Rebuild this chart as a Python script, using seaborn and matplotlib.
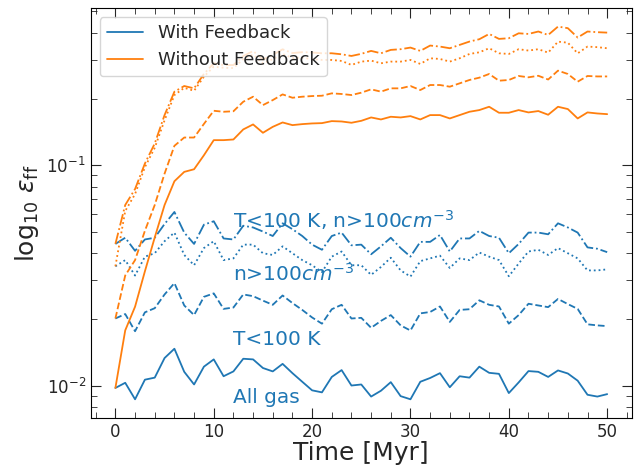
import numpy as np
import seaborn as sns
from matplotlib import pyplot as plt

sns.set_style("ticks", {"xtick.direction": "in", "ytick.direction": "in",
                        "axes.edgecolor": "black"})
plt.rcParams["font.family"] = ["DejaVu Sans"]

# Star formation efficiency per free-fall time, one value per Myr
time_myr = np.arange(0, 51)

# With feedback
fb_all_gas = [0.00975, 0.01029, 0.00866, 0.01063, 0.01086, 0.01333, 0.01469, 0.01154, 0.01011, 0.01218,
              0.01314, 0.01102, 0.01159, 0.01323, 0.01314, 0.01201, 0.01159, 0.01254, 0.01138, 0.01040,
              0.00951, 0.00931, 0.01094, 0.01175, 0.01000, 0.01011, 0.00891, 0.00947, 0.01036, 0.00895,
              0.00866, 0.01040, 0.01082, 0.01138, 0.00982, 0.01102, 0.01086, 0.01218, 0.01142, 0.01130,
              0.00924, 0.01033, 0.01163, 0.01154, 0.01094, 0.01171, 0.01134, 0.01052, 0.00908, 0.00891,
              0.00914]
fb_cold = [0.02015, 0.02111, 0.01764, 0.02149, 0.02244, 0.02591, 0.02917, 0.02309, 0.02088, 0.02527,
           0.02620, 0.02228, 0.02260, 0.02591, 0.02545, 0.02429, 0.02325, 0.02563, 0.02368, 0.02204,
           0.02037, 0.01909, 0.02220, 0.02325, 0.02015, 0.02029, 0.01828, 0.01965, 0.02088, 0.01875,
           0.01777, 0.02126, 0.02157, 0.02285, 0.01944, 0.02204, 0.02220, 0.02437, 0.02325, 0.02285,
           0.01909, 0.02088, 0.02351, 0.02309, 0.02269, 0.02472, 0.02343, 0.02228, 0.01896, 0.01875,
           0.01861]
fb_dense = [0.03478, 0.03710, 0.03157, 0.03846, 0.03986, 0.04521, 0.04946, 0.03915, 0.03516, 0.04207,
            0.04521, 0.03710, 0.03777, 0.04361, 0.04361, 0.03986, 0.03915, 0.04283, 0.03986, 0.03710,
            0.03516, 0.03272, 0.03846, 0.04059, 0.03516, 0.03516, 0.03180, 0.03453, 0.03804, 0.03331,
            0.03123, 0.03670, 0.03777, 0.03887, 0.03416, 0.03777, 0.03710, 0.04015, 0.03846, 0.03710,
            0.03134, 0.03579, 0.04059, 0.04133, 0.03915, 0.04207, 0.03986, 0.03777, 0.03331, 0.03331,
            0.03368]
fb_cold_dense = [0.04393, 0.04687, 0.04088, 0.04603, 0.04687, 0.05411, 0.06135, 0.04946, 0.04393, 0.05373,
                 0.05568, 0.04652, 0.04603, 0.05314, 0.05219, 0.05000, 0.04772, 0.05450, 0.05126, 0.04772,
                 0.04361, 0.04133, 0.04772, 0.04946, 0.04330, 0.04361, 0.03943, 0.04283, 0.04687, 0.04207,
                 0.03846, 0.04489, 0.04489, 0.04824, 0.04059, 0.04652, 0.04652, 0.05035, 0.04772, 0.04687,
                 0.03986, 0.04393, 0.04946, 0.04946, 0.04859, 0.05450, 0.05219, 0.04946, 0.04237, 0.04178,
                 0.04031]

# Without feedback
nofb_all_gas = [0.00975, 0.0178, 0.0228, 0.0330, 0.0470, 0.0660,
                0.0846, 0.0933, 0.0959, 0.1110, 0.1300, 0.1300, 0.1309, 0.1454, 0.1532, 0.1404,
                0.1494, 0.1564, 0.1521, 0.1537, 0.1548, 0.1553, 0.1586, 0.1580, 0.1559, 0.1591,
                0.1648, 0.1614, 0.1660, 0.1648, 0.1671, 0.1614, 0.1689, 0.1689, 0.1631, 0.1689,
                0.1749, 0.1780, 0.1843, 0.1731, 0.1731, 0.1780, 0.1737, 0.1762, 0.1695, 0.1843,
                0.1799, 0.1631, 0.1737, 0.1718, 0.1706]
nofb_cold = [0.02015, 0.0316, 0.0371, 0.0504, 0.0660,
             0.0916, 0.1225, 0.1336, 0.1336, 0.1540, 0.1767, 0.1749, 0.1758, 0.1942, 0.2047,
             0.1875, 0.1976, 0.2097, 0.2025, 0.2047, 0.2061, 0.2068, 0.2120, 0.2106, 0.2083,
             0.2135, 0.2211, 0.2158, 0.2234, 0.2234, 0.2289, 0.2195, 0.2313, 0.2313, 0.2273,
             0.2354, 0.2438, 0.2498, 0.2596, 0.2420, 0.2438, 0.2542, 0.2507, 0.2548, 0.2450,
             0.2688, 0.2596, 0.2395, 0.2542, 0.2530, 0.2530]
nofb_dense = [0.03478, 0.0620, 0.0740, 0.0980, 0.1200, 0.1600, 0.2083, 0.2246, 0.2178, 0.2524, 0.2803,
              0.277, 0.276, 0.303, 0.318, 0.290, 0.303, 0.320, 0.307, 0.308, 0.303,
              0.3006, 0.3006, 0.2975, 0.2853, 0.2954, 0.2985, 0.2903, 0.2954, 0.2954, 0.3006,
              0.2883, 0.3059, 0.3037, 0.2954, 0.3059, 0.3200, 0.3256, 0.3397, 0.3223, 0.3200,
              0.3363, 0.3316, 0.3363, 0.3245,
              0.364, 0.360, 0.322, 0.3457, 0.3436, 0.3397]
nofb_cold_dense = [0.04393, 0.0660, 0.0780, 0.1018, 0.1255, 0.1690, 0.2157, 0.2289, 0.2234, 0.2596, 0.2903,
                   0.285, 0.285, 0.313, 0.330, 0.302, 0.317, 0.336, 0.323, 0.326, 0.325,
                   0.3223, 0.3223, 0.3189, 0.3134, 0.3204, 0.3304, 0.3223, 0.3339, 0.3363, 0.3421,
                   0.3304, 0.3494, 0.3457, 0.3397, 0.3518, 0.3643, 0.3733, 0.3945, 0.3746, 0.3772,
                   0.3972, 0.3945, 0.4046, 0.3903,
                   0.426, 0.419, 0.380, 0.4046, 0.4018, 0.400]

line_styles = ["-", "--", ":", "-."]
fb_series = [fb_all_gas, fb_cold, fb_dense, fb_cold_dense]
nofb_series = [nofb_all_gas, nofb_cold, nofb_dense, nofb_cold_dense]

fig, ax = plt.subplots(figsize=(6.44, 4.68), dpi=100)

for i, (vals, ls) in enumerate(zip(fb_series, line_styles)):
    sns.lineplot(x=time_myr, y=vals, ax=ax, color="tab:blue", linestyle=ls, linewidth=1.3,
                 label="With Feedback" if i == 0 else None)
for i, (vals, ls) in enumerate(zip(nofb_series, line_styles)):
    sns.lineplot(x=time_myr, y=vals, ax=ax, color="tab:orange", linestyle=ls, linewidth=1.3,
                 label="Without Feedback" if i == 0 else None)

ax.set_yscale("log")
ax.margins(x=0.05, y=0.05)

# labels for the four gas selections
ax.text(12, 0.052, r"T<100 K, n>100$cm^{-3}$", color="tab:blue", fontsize=14.5)
ax.text(12, 0.0298, r"n>100$cm^{-3}$", color="tab:blue", fontsize=14.5)
ax.text(12, 0.0152, "T<100 K", color="tab:blue", fontsize=14.5)
ax.text(12, 0.0083, "All gas", color="tab:blue", fontsize=14.5)

ax.set_xlabel("Time [Myr]", fontsize=18, labelpad=0)
ax.set_ylabel(r"$\log_{10}\,\varepsilon_{\rm ff}$", fontsize=18)
ax.xaxis.set_major_locator(plt.MultipleLocator(10))
ax.xaxis.set_minor_locator(plt.MultipleLocator(2))
ax.tick_params(which="both", direction="in", top=True, right=True, labelsize=12)
ax.tick_params(which="major", length=7)
ax.tick_params(which="minor", length=4)
ax.legend(loc="upper left", fontsize=13)

fig.subplots_adjust(left=0.141, right=0.981, bottom=0.107, top=0.983)
fig.savefig("out.png", dpi=100)
